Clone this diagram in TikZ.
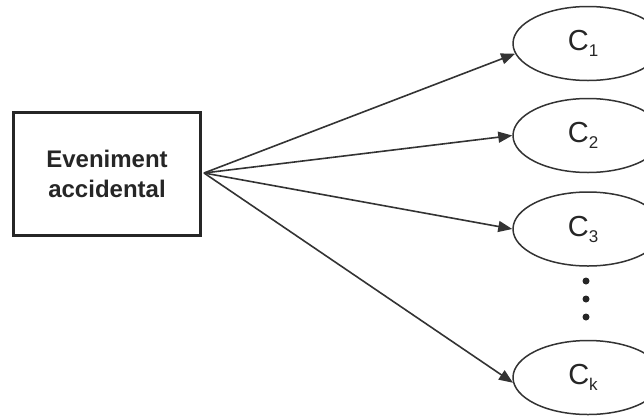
\documentclass[tikz,border=0pt]{standalone}
\usepackage{fontspec}
\setmainfont{Liberation Sans}
\usetikzlibrary{shapes.geometric,arrows.meta}
\newcommand{\csub}[1]{\kern-10pt C\raisebox{-6pt}{\fontsize{17}{17}\selectfont #1}}
\begin{document}
\begin{tikzpicture}[x=1pt,y=-1pt,
  cbox/.style={draw=black!85,line width=3pt,minimum width=187pt,minimum height=123pt,inner sep=0pt,align=center,font=\fontsize{24}{30}\selectfont\bfseries,text=black!85},
  cell/.style={draw=black!80,ellipse,line width=1.5pt,minimum width=150pt,minimum height=74pt,inner sep=0pt,font=\fontsize{29}{30}\selectfont,text=black!85},
  arr/.style={draw=black!80,line width=1.6pt,-{Triangle[length=14pt,width=11pt]}},
  dotm/.style={circle,fill=black!85,inner sep=0pt,minimum size=7pt}]
\useasboundingbox (0,0) rectangle (644,418);
\clip (0,0) rectangle (644,418);
\node[cbox] (ev) at (107,174) {Eveniment\\accidental};
\node[cell] (c1) at (588,43.5) {\csub{1}};
\node[cell] (c2) at (588,135.5) {\csub{2}};
\node[cell] (c3) at (588,229) {\csub{3}};
\node[cell] (ck) at (588,377.5) {\csub{k}};
\node[dotm] (d1) at (586,281) {};
\node[dotm] (d2) at (586,299) {};
\node[dotm] (d3) at (586,317) {};
\coordinate (o) at (204,173);
\draw[arr] (o) -- (c1.188);
\draw[arr] (o) -- (c2.west);
\draw[arr] (o) -- (c3.west);
\draw[arr] (o) -- (ck.184);
\end{tikzpicture}
\end{document}
